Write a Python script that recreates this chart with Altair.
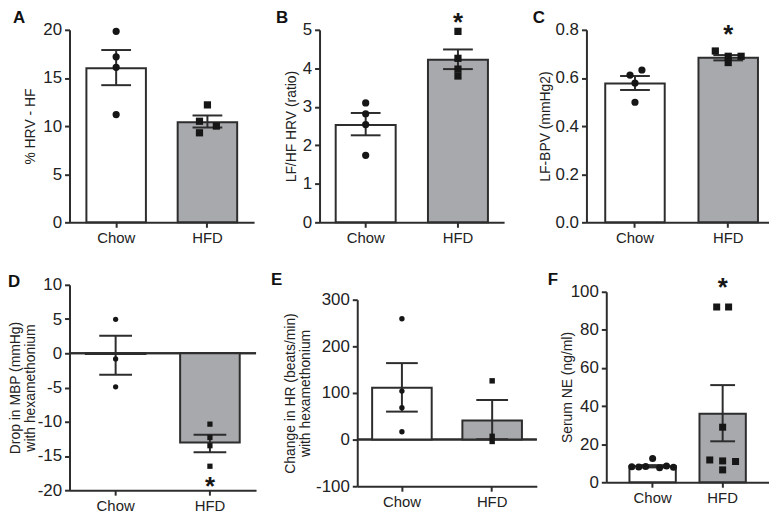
import altair as alt
import pandas as pd

FONT = "Liberation Sans"
INK = "#2d2d2d"
DOT = "#161616"

groups = ["Chow", "HFD"]
bar_fills = ["#ffffff", "#a7a9ac"]
point_shapes = ["circle", "square"]
panel_letters = ["A", "B", "C", "D", "E", "F"]

# ---- Panel A ----
a_title = "% HRV - HF"
a_ticks = [0, 5, 10, 15, 20]
a_mean = [16.0, 10.4]
a_lo = [14.25, 9.85]
a_hi = [17.9, 11.1]
a_chow = [19.85, 17.2, 16.1, 11.2]
a_hfd = [12.2, 10.5, 10.0, 9.3]
a_chow_jitter = [0, 0, 0, 0]
a_hfd_jitter = [0, -8, 9, -8]

# ---- Panel B ----
b_title = "LF/HF HRV (ratio)"
b_ticks = [0, 1, 2, 3, 4, 5]
b_mean = [2.53, 4.22]
b_lo = [2.26, 3.98]
b_hi = [2.84, 4.49]
b_chow = [3.10, 2.82, 2.54, 1.74]
b_hfd = [4.96, 4.26, 3.98, 3.80]
b_chow_jitter = [0, 0, 0, 0]
b_hfd_jitter = [0, 0, 0, 0]
b_star = 5.36

# ---- Panel C ----
c_title = "LF-BPV (mmHg2)"
c_ticks = [0.0, 0.2, 0.4, 0.6, 0.8]
c_mean = [0.577, 0.684]
c_lo = [0.550, 0.673]
c_hi = [0.608, 0.695]
c_chow = [0.633, 0.612, 0.579, 0.499]
c_hfd = [0.712, 0.690, 0.690, 0.664]
c_chow_jitter = [7, -5, 0, 0]
c_hfd_jitter = [-13, 0, 13, 0]
c_star = 0.805

# ---- Panel D ----
d_title = ["Drop in MBP (mmHg)", "with hexamethonium"]
d_ticks = [-20, -15, -10, -5, 0, 5, 10]
d_mean = [-0.1, -13.05]
d_lo = [-3.13, -14.45]
d_hi = [2.55, -11.9]
d_chow = [4.96, -0.82, -4.9]
d_hfd = [-10.35, -12.3, -13.5, -16.5]
d_chow_jitter = [0, 0, 0]
d_hfd_jitter = [0, 0, 0, 0]
d_star = -18.55

# ---- Panel E ----
e_title = ["Change in HR (beats/min)", "with hexamethonium"]
e_ticks = [-100, 0, 100, 200, 300]
e_mean = [111, 41]
e_lo = [60, 1]
e_hi = [164, 85]
e_chow = [259, 104, 68.5, 16.7]
e_hfd = [126, 7, -4]
e_chow_jitter = [0, 0, 0, 0]
e_hfd_jitter = [0, 0, 0]

# ---- Panel F ----
f_title = "Serum NE (ng/ml)"
f_ticks = [0, 20, 40, 60, 80, 100]
f_mean = [8.4, 36.0]
f_lo = [7.8, 21.5]
f_hi = [9.0, 51.0]
f_chow = [8.2, 8.0, 8.3, 12.5, 7.6, 8.5, 7.9]
f_hfd = [92, 92, 28.9, 11.7, 11.2, 6.5, 10.9]
f_chow_jitter = [-21, -14, -7, 0, 7, 14, 21]
f_hfd_jitter = [-6, 6, 0, -13, 0, 0, 13]
f_star = 105.5


def make_panel(title, ticks, domain, fmt, mean, lo, hi, chow, chow_jit, hfd, hfd_jit,
               width, height, pin, pout, align, pt_size, cap, letter, lx, ly,
               star=None, zero_line=False, title_pad=5, anchor=False, top_gap=0):
    summ = pd.DataFrame({"group": groups, "mean": mean, "lo": lo, "hi": hi})
    pts = pd.DataFrame({
        "group": ["Chow"] * len(chow) + ["HFD"] * len(hfd),
        "value": chow + hfd,
        "jitter": chow_jit + hfd_jit,
    })

    xs = alt.Scale(domain=groups, paddingInner=pin, paddingOuter=pout, align=align)
    xa = alt.Axis(title=None, labelAngle=0, labelPadding=3, labelFontSize=15)
    x_enc = alt.X("group:N", scale=xs, axis=xa)
    ys = alt.Scale(domain=domain, nice=False, zero=False, range=[height, top_gap])
    if fmt == "hyphen":
        ya = alt.Axis(values=ticks, labelExpr="toString(datum.value)", title=title, titlePadding=title_pad)
    else:
        ya = alt.Axis(values=ticks, format=fmt, title=title, titlePadding=title_pad)

    def Y(field):
        return alt.Y(field, type="quantitative", scale=ys, axis=ya)

    layers = []
    if zero_line:
        layers.append(alt.Chart(summ).mark_rule(color=INK, strokeWidth=2).encode(
            y=alt.Y(datum=0, scale=ys, axis=ya)))
    layers.append(alt.Chart(summ).mark_bar(stroke=INK, strokeWidth=2, opacity=1).encode(
        x=x_enc, y=Y("mean"), y2=alt.datum(0),
        color=alt.Color("group:N", scale=alt.Scale(domain=groups, range=bar_fills), legend=None)))
    layers.append(alt.Chart(summ).mark_rule(color=INK, strokeWidth=2).encode(
        x=x_enc, y=Y("lo"), y2="hi:Q"))
    layers.append(alt.Chart(summ).mark_tick(color=INK, thickness=2, size=cap, opacity=1).encode(
        x=x_enc, y=Y("hi")))
    layers.append(alt.Chart(summ).mark_tick(color=INK, thickness=2, size=cap, opacity=1).encode(
        x=x_enc, y=Y("lo")))
    for j in sorted(set(chow_jit + hfd_jit)):
        sub = pts[pts["jitter"] == j]
        layers.append(alt.Chart(sub).mark_point(filled=True, opacity=1, color=DOT, size=pt_size,
                                                strokeWidth=0, xOffset=j).encode(
            x=x_enc, y=Y("value"),
            shape=alt.Shape("group:N", scale=alt.Scale(domain=groups, range=point_shapes), legend=None)))
    if star is not None:
        sdf = pd.DataFrame({"group": ["HFD"], "value": [star]})
        layers.append(alt.Chart(sdf).mark_text(text="*", fontSize=26, fontWeight="bold", font=FONT,
                                               color=DOT, baseline="middle", dy=6.8).encode(
            x=x_enc, y=Y("value")))
    ldf = pd.DataFrame({"letter": [letter]})
    layers.append(alt.Chart(ldf).mark_text(align="left", baseline="alphabetic", fontSize=17,
                                           fontWeight="bold", font=FONT, color="#111").encode(
        x=alt.value(lx), y=alt.value(ly), text="letter:N"))
    if anchor:
        layers.append(alt.Chart(ldf).mark_point(opacity=0, size=1).encode(
            x=alt.value(-57), y=alt.value(-24)))
    return alt.layer(*layers).properties(width=width, height=height)


def spacer(w, h):
    return alt.Chart(pd.DataFrame({"v": [0]})).mark_point(opacity=0, size=1).encode(
        x=alt.value(0), y=alt.value(0)).properties(width=w, height=h)


pA = make_panel(a_title, a_ticks, [0, 20], "d", a_mean, a_lo, a_hi, a_chow, a_chow_jitter, a_hfd, a_hfd_jitter,
                186, 194, 0.348, 0.185, 0.5, 53, 30, panel_letters[0], -57, -7, anchor=True, title_pad=5)
pB = make_panel(b_title, b_ticks, [0, 5], "d", b_mean, b_lo, b_hi, b_chow, b_chow_jitter, b_hfd, b_hfd_jitter,
                186, 194, 0.35, 0.175, 0.5, 53, 30, panel_letters[1], -44, -7, star=b_star, title_pad=4)
pC = make_panel(c_title, c_ticks, [0, 0.8], ".1f", c_mean, c_lo, c_hi, c_chow, c_chow_jitter, c_hfd, c_hfd_jitter,
                184, 194, 0.362, 0.16, 0.63, 53, 30, panel_letters[2], -54, -7, star=c_star, title_pad=3)
pD = make_panel(d_title, d_ticks, [-20, 10], "hyphen", d_mean, d_lo, d_hi, d_chow, d_chow_jitter, d_hfd,
                d_hfd_jitter, 188, 207, 0.368, 0.173, 0.5, 28, 33, panel_letters[3], -62, 2, star=d_star,
                zero_line=True, title_pad=0)
pE = make_panel(e_title, e_ticks, [-100, 300], "hyphen", e_mean, e_lo, e_hi, e_chow, e_chow_jitter, e_hfd,
                e_hfd_jitter, 181, 203, 0.34, 0.165, 0.5, 30, 32, panel_letters[4], -87, 0, zero_line=True,
                title_pad=3, top_gap=15)
pF = make_panel(f_title, f_ticks, [0, 100], "d", f_mean, f_lo, f_hi, f_chow, f_chow_jitter, f_hfd, f_hfd_jitter,
                164, 199, 0.338, 0.331, 0.5, 50, 25, panel_letters[5], -59, 0, star=f_star, top_gap=7,
                title_pad=-4)

row1 = alt.hconcat(pA, spacer(66, 1), pB, spacer(83, 1), pC, spacing=0, bounds="flush")
row2 = alt.hconcat(pD, spacer(102, 1), pE, spacer(70, 1), pF, spacing=0, bounds="flush")

chart = alt.vconcat(row1, row2, spacing=26, bounds="full").properties(
    padding={"left": 0, "top": -5, "right": 0, "bottom": 0}
).configure_view(stroke=None).configure_axis(
    domainColor=INK, domainWidth=2, tickColor=INK, tickWidth=2, tickSize=5,
    labelFont=FONT, labelFontSize=17, labelColor="#222", labelPadding=3,
    titleFont=FONT, titleFontSize=14, titleFontWeight="normal", titleColor="#222",
    titleLineHeight=15, grid=False
)

chart.save("out.html", embed_options={"renderer": "svg", "actions": False})
